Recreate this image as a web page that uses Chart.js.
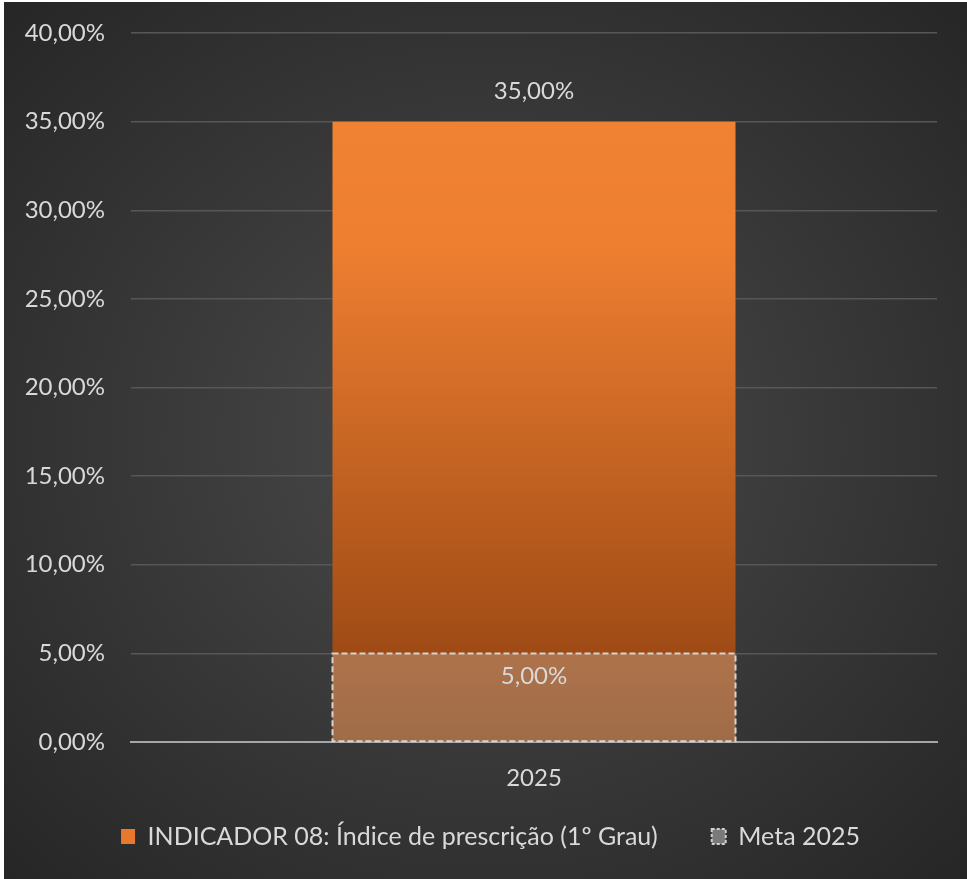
<!DOCTYPE html>
<html>
<head>
<meta charset="utf-8">
<script src="https://cdn.jsdelivr.net/npm/chart.js@4"></script>
<style>
  html, body { margin: 0; padding: 0; background: #ffffff; }
  #wrap {
    position: absolute; left: 4px; top: 2px; width: 963px; height: 877px;
    background: radial-gradient(ellipse farthest-corner at 50% 50%, #4b4b4b 0%, #262626 100%);
  }
  canvas { display: block; }
</style>
</head>
<body>
<div id="wrap"><canvas id="c" width="963" height="877"></canvas></div>
<script>
const categories = ['2025'];
const indicadorValues = [35.0];
const metaValues = [5.0];
const seriesNames = ['INDICADOR 08: Índice de prescrição (1º Grau)', 'Meta 2025'];
const yTicks = [0, 5, 10, 15, 20, 25, 30, 35, 40];

const FONT = 'Lato';
const TEXT = '#d9d9d9';

function fmtPct(v) {
  return v.toFixed(2).replace('.', ',') + '%';
}

function orangeGradient(ctx) {
  const chart = ctx.chart;
  if (!chart.chartArea) return '#E87A30';
  const y = chart.scales.y;
  const top = y.getPixelForValue(indicadorValues[0]);
  const bottom = y.getPixelForValue(0);
  const g = chart.ctx.createLinearGradient(0, top, 0, bottom);
  g.addColorStop(0, '#F08233');
  g.addColorStop(0.2, '#EE7F31');
  g.addColorStop(1, '#8E3F0F');
  return g;
}

function metaGradient(ctx) {
  const chart = ctx.chart;
  if (!chart.chartArea) return '#A87049';
  const y = chart.scales.y;
  const top = y.getPixelForValue(metaValues[0]);
  const bottom = y.getPixelForValue(0);
  const g = chart.ctx.createLinearGradient(0, top, 0, bottom);
  g.addColorStop(0, '#AE734B');
  g.addColorStop(1, '#9F6C48');
  return g;
}

// dashed outline of the goal bar + value labels
const barExtras = {
  id: 'barExtras',
  afterLayout(chart) {
    const l = chart.legend;
    if (l) {
      l.top -= 20; l.bottom -= 20;
      l.left += 20; l.right += 20;
    }
  },
  afterDatasetsDraw(chart) {
    const ctx = chart.ctx;
    ctx.save();
    const m1 = chart.getDatasetMeta(1);
    m1.data.forEach((bar) => {
      const p = bar.getProps(['x', 'y', 'base', 'width'], true);
      ctx.strokeStyle = '#d4d4d4';
      ctx.lineWidth = 2;
      ctx.setLineDash([6, 3]);
      ctx.strokeRect(p.x - p.width / 2, p.y, p.width, p.base - p.y);
    });
    ctx.setLineDash([]);
    ctx.font = '24px ' + FONT;
    ctx.fillStyle = TEXT;
    ctx.textAlign = 'center';
    ctx.textBaseline = 'middle';
    const m0 = chart.getDatasetMeta(0);
    m0.data.forEach((bar, i) => {
      ctx.fillText(fmtPct(indicadorValues[i]), bar.x, bar.y - 30);
    });
    m1.data.forEach((bar, i) => {
      ctx.fillText(fmtPct(metaValues[i]), bar.x, bar.y + 23);
    });
    ctx.restore();
  }
};

new Chart(document.getElementById('c'), {
  type: 'bar',
  data: {
    labels: categories,
    datasets: [
      {
        label: seriesNames[0],
        data: indicadorValues,
        backgroundColor: orangeGradient,
        borderWidth: 0,
        grouped: false,
        order: 2,
        barPercentage: 0.5,
        categoryPercentage: 1.0
      },
      {
        label: seriesNames[1],
        data: metaValues,
        backgroundColor: metaGradient,
        borderWidth: 0,
        grouped: false,
        order: 1,
        barPercentage: 0.5,
        categoryPercentage: 1.0
      }
    ]
  },
  options: {
    responsive: false,
    animation: false,
    devicePixelRatio: 1,
    layout: { padding: { top: 31, right: 30, left: 0, bottom: 0 } },
    scales: {
      x: {
        grid: { display: false, drawTicks: false },
        border: { display: true, color: '#a6a6a6', width: 2 },
        ticks: { color: TEXT, font: { family: FONT, size: 24 }, padding: 22 },
        afterFit(s) { s.height = 48; s.paddingLeft = 0; s.paddingRight = 0; }
      },
      y: {
        min: 0, max: 40,
        afterBuildTicks(s) { s.ticks = yTicks.map(v => ({ value: v })); },
        grid: { color: '#575757', lineWidth: 1.5, drawTicks: false },
        border: { display: false },
        ticks: {
          color: TEXT,
          font: { family: FONT, size: 24 },
          padding: 26,
          callback: (v) => fmtPct(v)
        },
        afterFit(s) { s.width = 127; s.paddingTop = 0; s.paddingBottom = 0; }
      }
    },
    plugins: {
      tooltip: { enabled: false },
      legend: {
        position: 'bottom',
        labels: {
          color: TEXT,
          font: { family: FONT, size: 25 },
          boxWidth: 14,
          boxHeight: 15,
          padding: 54,
          generateLabels(chart) {
            return [
              {
                text: seriesNames[0], fillStyle: '#E8782E', strokeStyle: '#E8782E',
                lineWidth: 0, datasetIndex: 0, fontColor: TEXT
              },
              {
                text: seriesNames[1], fillStyle: '#7a7a7a', strokeStyle: '#d0d0d0',
                lineWidth: 2, lineDash: [3, 2], datasetIndex: 1, fontColor: TEXT
              }
            ];
          }
        }
      }
    }
  },
  plugins: [barExtras]
});
</script>
</body>
</html>
